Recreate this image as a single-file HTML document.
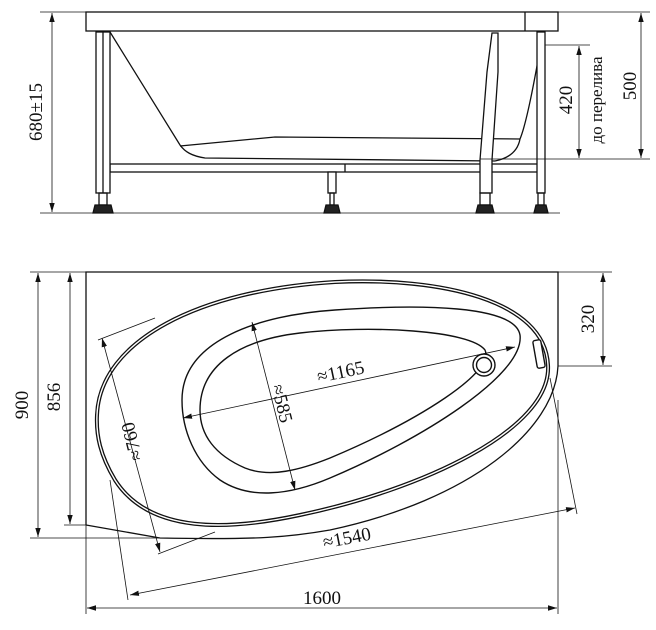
<!DOCTYPE html>
<html><head><meta charset="utf-8"><style>
html,body{margin:0;padding:0;background:#fff;}
svg{display:block;}
text{font-family:"Liberation Serif",serif;font-size:19px;fill:#111;}
</style></head><body>
<svg width="656" height="630" viewBox="0 0 656 630" xmlns="http://www.w3.org/2000/svg">
<defs>
<marker id="a" viewBox="0 0 10 10" refX="10" refY="5" markerWidth="9" markerHeight="9" markerUnits="userSpaceOnUse" orient="auto-start-reverse"><path d="M0,2 L10,5 L0,8 Z" fill="#111"/></marker>
</defs>
<rect width="656" height="630" fill="#fff"/>
<g fill="none" stroke="#111" stroke-width="1.3">
<!-- SIDE VIEW -->
<rect x="86" y="12" width="472" height="19" fill="#fff"/>
<line x1="525" y1="12" x2="525" y2="31"/>
<!-- tub -->
<path d="M110 32 L180 145 C185 152 192 156 205 158 L495 161"/>
<path d="M180 146 L275 137 L520 139"/>
<path d="M520 139 C528 120 538 60 543 33"/>
<path d="M495 161 C510 158 518 150 520 139"/>
<!-- frame crossbar -->
<rect x="110" y="164" width="428" height="8" fill="#fff"/>
<line x1="345" y1="164" x2="345" y2="172"/>
<!-- left leg -->
<rect x="96" y="32" width="14" height="161" fill="#fff"/>
<line x1="103" y1="32" x2="103" y2="193"/>
<rect x="99" y="193" width="8" height="12"/>
<path d="M93 213 L95 205 L111 205 L113 213 Z" fill="#222"/>
<!-- middle leg -->
<rect x="328" y="172" width="8" height="21" fill="#fff"/>
<rect x="330" y="193" width="4" height="12"/>
<path d="M324 213 L326 205 L338 205 L340 213 Z" fill="#222"/>
<!-- right-middle leg with diagonal -->
<path d="M492 33 L498 33 L498 72 L492 160 L492 193 L480 193 L480 160 L487 72 Z" fill="#fff"/>
<rect x="480" y="193" width="10" height="12"/>
<path d="M476 213 L478 205 L492 205 L494 213 Z" fill="#222"/>
<!-- right leg -->
<rect x="537" y="32" width="8" height="161" fill="#fff"/>
<rect x="538" y="193" width="6" height="12"/>
<path d="M534 213 L536 205 L546 205 L548 213 Z" fill="#222"/>
</g>
<g fill="none" stroke="#111" stroke-width="0.8">
<!-- 680 dim -->
<line x1="40" y1="12" x2="86" y2="12"/>
<line x1="40" y1="213" x2="560" y2="213"/>
<line x1="52" y1="13" x2="52" y2="212" marker-start="url(#a)" marker-end="url(#a)"/>
<!-- 500 dim -->
<line x1="558" y1="12" x2="650" y2="12"/>
<line x1="480" y1="159" x2="650" y2="159"/>
<line x1="641" y1="13" x2="641" y2="158" marker-start="url(#a)" marker-end="url(#a)"/>
<!-- 420 -->
<line x1="545" y1="45" x2="590" y2="45"/>
<line x1="579" y1="46" x2="579" y2="158" marker-start="url(#a)" marker-end="url(#a)"/>
</g>
<text transform="translate(42,112) rotate(-90)" text-anchor="middle">680±15</text>
<text transform="translate(636,86) rotate(-90)" text-anchor="middle">500</text>
<text transform="translate(572,100) rotate(-90)" text-anchor="middle">420</text>
<text transform="translate(602,100) rotate(-90)" text-anchor="middle" style="font-size:17px">до перелива</text>

<!-- PLAN VIEW -->
<g fill="none" stroke="#111" stroke-width="1.3">
<path d="M86 525 L86 272 L558 272 L558 366"/>
<path d="M558 366 C555 430 470 500 330 530 C290 537 260 540 160 538 L86 525"/>
</g>
<path d="M97 415 C100 340 200 290 335 282 C440 277 545 300 548 365 C552 430 420 490 300 515 C230 530 150 535 115 480 C100 455 96 435 97 415 Z" fill="none" stroke="#111" stroke-width="4"/>
<path d="M97 415 C100 340 200 290 335 282 C440 277 545 300 548 365 C552 430 420 490 300 515 C230 530 150 535 115 480 C100 455 96 435 97 415 Z" fill="none" stroke="#fff" stroke-width="1.4"/>
<g fill="none" stroke="#111" stroke-width="1.4">
<path d="M182 400 C182 340 260 315 335 310 C420 304 515 305 520 335 C525 375 420 440 330 478 C290 495 250 500 220 480 C195 462 182 430 182 400 Z"/>
<path d="M200 410 C200 365 240 340 300 333 C370 325 470 330 485 350 C495 372 420 420 330 458 C300 470 270 478 245 468 C215 455 200 435 200 410 Z"/>
<circle cx="484" cy="365" r="11" fill="#fff"/>
<circle cx="484" cy="365" r="7.5"/>
<rect x="535" y="340" width="8" height="28" rx="2" transform="rotate(-10 539 354)" fill="#fff"/>
</g>
<g fill="none" stroke="#111" stroke-width="0.8">
<!-- 1165 -->
<line x1="183" y1="418" x2="515" y2="347" marker-start="url(#a)" marker-end="url(#a)"/>
<!-- 585 -->
<line x1="252" y1="322" x2="295" y2="490" marker-start="url(#a)" marker-end="url(#a)"/>
<!-- 760 -->
<line x1="102" y1="338" x2="160" y2="552" marker-start="url(#a)" marker-end="url(#a)"/>
<line x1="98" y1="340" x2="155" y2="318"/>
<line x1="158" y1="554" x2="215" y2="532"/>
<!-- 1540 -->
<line x1="130" y1="595" x2="575" y2="508" marker-start="url(#a)" marker-end="url(#a)"/>
<line x1="110" y1="480" x2="128" y2="600"/>
<line x1="550" y1="378" x2="577" y2="514"/>
<!-- 1600 -->
<line x1="86" y1="525" x2="86" y2="614"/>
<line x1="558" y1="400" x2="558" y2="614"/>
<line x1="87" y1="608" x2="557" y2="608" marker-start="url(#a)" marker-end="url(#a)"/>
<!-- 900 -->
<line x1="30" y1="272" x2="86" y2="272"/>
<line x1="30" y1="538" x2="160" y2="538"/>
<line x1="38" y1="273" x2="38" y2="537" marker-start="url(#a)" marker-end="url(#a)"/>
<!-- 856 -->
<line x1="64" y1="525" x2="86" y2="525"/>
<line x1="70" y1="273" x2="70" y2="524" marker-start="url(#a)" marker-end="url(#a)"/>
<!-- 320 -->
<line x1="558" y1="272" x2="612" y2="272"/>
<line x1="558" y1="366" x2="612" y2="366"/>
<line x1="603" y1="273" x2="603" y2="365" marker-start="url(#a)" marker-end="url(#a)"/>
</g>
<text transform="translate(342,378) rotate(-12)" text-anchor="middle">≈1165</text>
<text transform="translate(276,405) rotate(76)" text-anchor="middle">≈585</text>
<text transform="translate(138,440) rotate(-104)" text-anchor="middle">≈760</text>
<text transform="translate(348,544) rotate(-11)" text-anchor="middle">≈1540</text>
<text x="322" y="604" text-anchor="middle">1600</text>
<text transform="translate(28,405) rotate(-90)" text-anchor="middle">900</text>
<text transform="translate(60,397) rotate(-90)" text-anchor="middle">856</text>
<text transform="translate(594,319) rotate(-90)" text-anchor="middle">320</text>
</svg>
</body></html>
